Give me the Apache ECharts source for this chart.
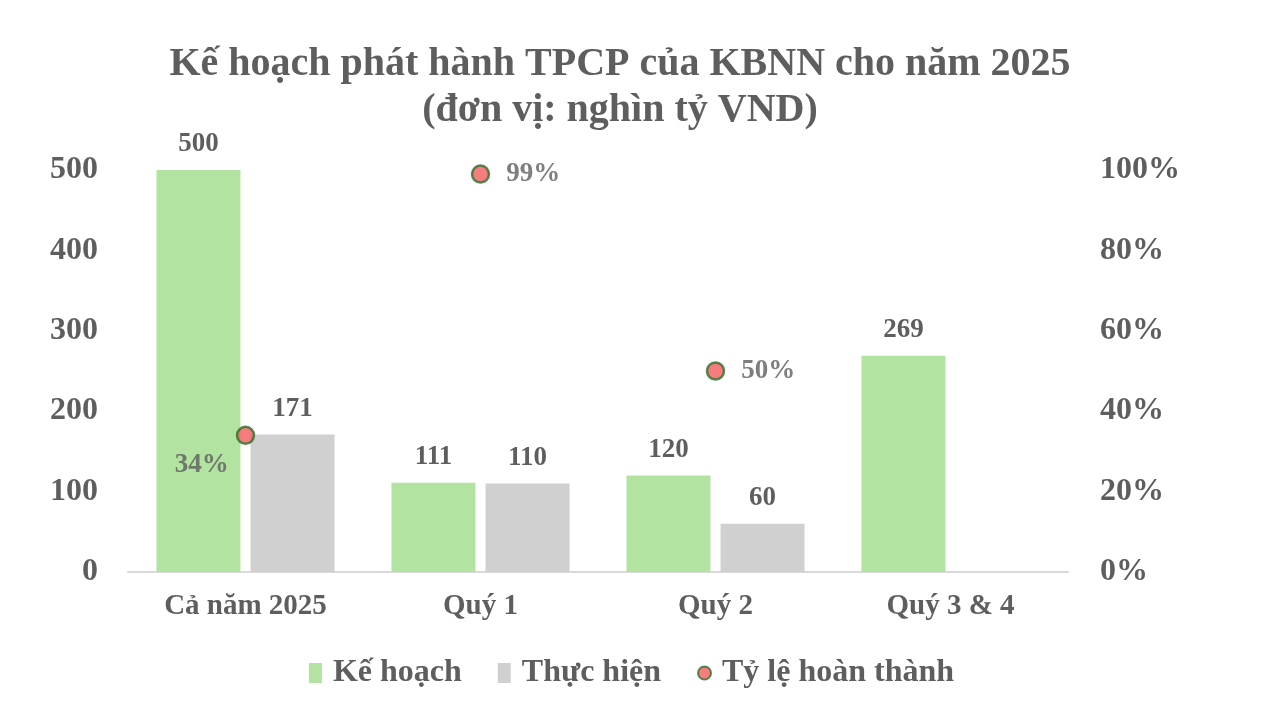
<!DOCTYPE html>
<html><head><meta charset="utf-8">
<script src="https://cdn.jsdelivr.net/npm/echarts@6/dist/echarts.min.js"></script>
<style>html,body{margin:0;padding:0;background:#fff}#c{width:1263px;height:720px}</style>
</head><body><div id="c"></div>
<script>
const categories = ['Cả năm 2025', 'Quý 1', 'Quý 2', 'Quý 3 & 4'];
const keHoach = [500, 111, 120, 269];
const thucHien = [171, 110, 60, null];
const tyLe = [34, 99, 50, null];

const FONT = '"Liberation Serif", "DejaVu Serif", serif';
const TXT = '#5e5e5e';
const chart = echarts.init(document.getElementById('c'));
chart.setOption({
  backgroundColor: '#fff',
  animation: false,
  title: {
    text: 'Kế hoạch phát hành TPCP của KBNN cho năm 2025\n(đơn vị: nghìn tỷ VND)',
    left: 615, top: 37, textAlign: 'center',
    textStyle: { fontFamily: FONT, fontWeight: 'bold', fontSize: 40, color: TXT, lineHeight: 46 }
  },
  legend: {
    bottom: 26, left: 'center', itemGap: 36, itemWidth: 13, itemHeight: 20,
    textStyle: { fontFamily: FONT, fontWeight: 'bold', fontSize: 32, color: TXT, padding: [0, 0, 0, 6] },
    data: [
      { name: 'Kế hoạch', icon: 'rect' },
      { name: 'Thực hiện', icon: 'rect' },
      { name: 'Tỷ lệ hoàn thành', icon: 'circle' }
    ]
  },
  grid: { left: 128, right: 195, top: 170, bottom: 148 },
  xAxis: {
    type: 'category', data: categories,
    axisLine: { lineStyle: { color: '#d9d9d9', width: 2 } },
    axisTick: { show: false },
    axisLabel: { fontFamily: FONT, fontWeight: 'bold', fontSize: 29, color: TXT, margin: 20 }
  },
  yAxis: [
    { type: 'value', min: 0, max: 500, interval: 100, splitLine: { show: false },
      axisLine: { show: false }, axisTick: { show: false },
      axisLabel: { fontFamily: FONT, fontWeight: 'bold', fontSize: 32, color: TXT, margin: 30 } },
    { type: 'value', min: 0, max: 100, interval: 20, splitLine: { show: false },
      axisLine: { show: false }, axisTick: { show: false },
      axisLabel: { fontFamily: FONT, fontWeight: 'bold', fontSize: 32, color: TXT, margin: 32, formatter: '{value}%' } }
  ],
  series: [
    { name: 'Kế hoạch', type: 'bar', data: keHoach, barWidth: 84, barGap: '12%',
      itemStyle: { color: '#b2e3a0' },
      label: { show: true, position: 'top', distance: 12, fontFamily: FONT, fontWeight: 'bold', fontSize: 27, color: TXT } },
    { name: 'Thực hiện', type: 'bar', data: thucHien, barWidth: 84,
      itemStyle: { color: '#d0d0d0' },
      label: { show: true, position: 'top', distance: 12, fontFamily: FONT, fontWeight: 'bold', fontSize: 27, color: TXT } },
    { name: 'Tỷ lệ hoàn thành', type: 'scatter', yAxisIndex: 1, symbolSize: 17,
      itemStyle: { color: '#f25c5c', borderColor: '#2e6e2e', borderWidth: 2.5 },
      data: tyLe.map((v, i) => {
        if (v == null) return null;
        const lbl = i === 0
          ? { position: 'left', offset: [-2, 30] }
          : { position: 'right', distance: 16 };
        return { value: v, label: lbl };
      }),
      label: { show: true, fontFamily: FONT, fontWeight: 'bold', fontSize: 27, color: TXT, formatter: p => p.value + '%' } }
  ]
});
</script></body></html>
